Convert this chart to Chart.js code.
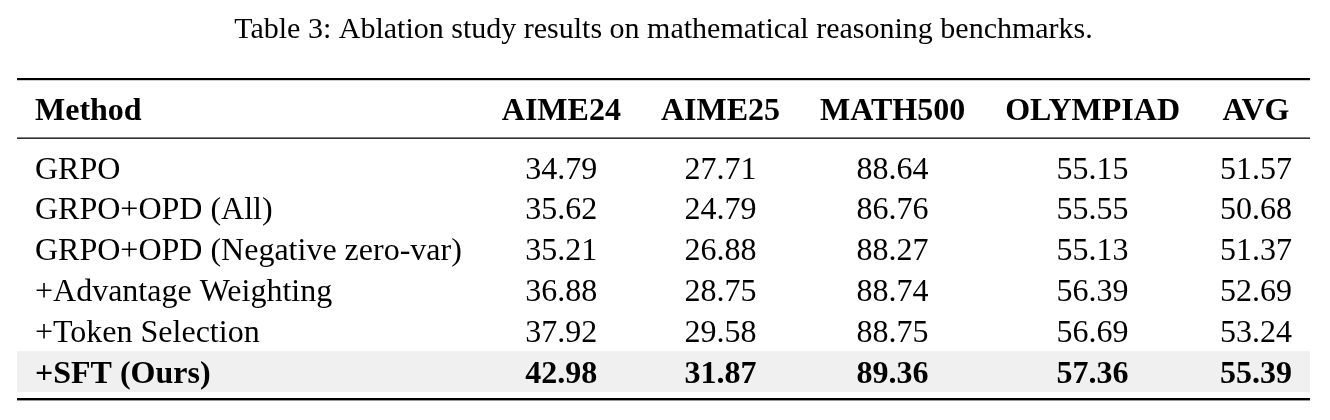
<!DOCTYPE html>
<html>
<head>
<meta charset="utf-8">
<title>Table 3: Ablation study</title>
<script src="https://cdn.jsdelivr.net/npm/chart.js@4.4.1/dist/chart.umd.min.js"></script>
<style>
  html, body { margin: 0; padding: 0; background: #fff; }
  #wrap { width: 1330px; height: 420px; }
</style>
</head>
<body>
<div id="wrap"><canvas id="ablationTable"></canvas></div>
<script>
// Table contents
const caption = 'Table 3: Ablation study results on mathematical reasoning benchmarks.';
const methodHeader = 'Method';
const benchmarks = ['AIME24', 'AIME25', 'MATH500', 'OLYMPIAD', 'AVG'];
const methods = ['GRPO', 'GRPO+OPD (All)', 'GRPO+OPD (Negative zero-var)', '+Advantage Weighting', '+Token Selection', '+SFT (Ours)'];
const aime24 = [34.79, 35.62, 35.21, 36.88, 37.92, 42.98];
const aime25 = [27.71, 24.79, 26.88, 28.75, 29.58, 31.87];
const math500 = [88.64, 86.76, 88.27, 88.74, 88.75, 89.36];
const olympiad = [55.15, 55.55, 55.13, 56.39, 56.69, 57.36];
const avg = [51.57, 50.68, 51.37, 52.69, 53.24, 55.39];
const highlightRow = '+SFT (Ours)';

const FAMILY = '"Liberation Serif", "Times New Roman", Times, serif';
const CELL_SIZE = 32;
const regularFont = CELL_SIZE + 'px ' + FAMILY;
const boldFont = 'bold ' + CELL_SIZE + 'px ' + FAMILY;

// Draws the booktabs-style table: rows come from the y category scale,
// column widths come from the measured text, spread across the chart area
const tablePlugin = {
    id: 'tablePlugin',
    afterDraw(chart) {
        const ctx = chart.ctx;
        const area = chart.chartArea;
        const yScale = chart.scales.y;
        const columns = [aime24, aime25, math500, olympiad, avg];
        const rowH = yScale.getPixelForValue(1) - yScale.getPixelForValue(0);
        const margin = 18;

        ctx.save();

        // highlighted row background
        const hi = methods.indexOf(highlightRow);
        if (hi >= 0) {
            const cy = yScale.getPixelForValue(hi);
            ctx.fillStyle = '#f0f0f0';
            ctx.fillRect(area.left, cy - rowH / 2, area.right - area.left, rowH);
        }

        // measure column widths
        ctx.font = boldFont;
        let methodW = ctx.measureText(methodHeader).width;
        methods.forEach(m => {
            ctx.font = m === highlightRow ? boldFont : regularFont;
            methodW = Math.max(methodW, ctx.measureText(m).width);
        });
        const colW = benchmarks.map((b, c) => {
            ctx.font = boldFont;
            let w = ctx.measureText(b).width;
            columns[c].forEach((v, r) => {
                ctx.font = methods[r] === highlightRow ? boldFont : regularFont;
                w = Math.max(w, ctx.measureText(v.toFixed(2)).width);
            });
            return w;
        });
        const inner = (area.right - area.left) - 2 * margin;
        const used = methodW + colW.reduce((a, b) => a + b, 0);
        const gap = (inner - used) / benchmarks.length;
        const methodX = area.left + margin;
        const centers = [];
        let x = methodX + methodW + gap;
        colW.forEach(w => {
            centers.push(x + w / 2);
            x += w + gap;
        });

        // rules
        ctx.fillStyle = '#000';
        ctx.fillRect(area.left, area.top - 69, area.right - area.left, 2.2);
        ctx.fillRect(area.left, area.top - 9.5, area.right - area.left, 1.3);
        ctx.fillRect(area.left, area.bottom + 6, area.right - area.left, 2.4);

        // header
        ctx.textBaseline = 'alphabetic';
        ctx.font = boldFont;
        const headerBase = area.top - 27;
        ctx.textAlign = 'left';
        ctx.fillText(methodHeader, methodX, headerBase);
        ctx.textAlign = 'center';
        benchmarks.forEach((b, c) => ctx.fillText(b, centers[c], headerBase));

        // body rows
        methods.forEach((m, r) => {
            const base = yScale.getPixelForValue(r) + CELL_SIZE * 0.35;
            ctx.font = m === highlightRow ? boldFont : regularFont;
            ctx.textAlign = 'left';
            ctx.fillText(m, methodX, base);
            ctx.textAlign = 'center';
            columns.forEach((col, c) => ctx.fillText(col[r].toFixed(2), centers[c], base));
        });

        ctx.restore();
    }
};

new Chart(document.getElementById('ablationTable'), {
    type: 'bar',
    data: {
        labels: methods,
        datasets: []
    },
    options: {
        indexAxis: 'y',
        responsive: true,
        maintainAspectRatio: false,
        animation: false,
        layout: {
            padding: { left: 17, right: 20, top: 0, bottom: 28 }
        },
        scales: {
            x: { type: 'linear', min: 0, max: 1, display: false },
            y: { type: 'category', labels: methods, display: false }
        },
        plugins: {
            legend: { display: false },
            tooltip: { enabled: false },
            title: {
                display: true,
                text: caption,
                color: '#000',
                font: { family: FAMILY, size: 30, weight: 'normal' },
                padding: { top: 12, bottom: 99 }
            }
        }
    },
    plugins: [tablePlugin]
});
</script>
</body>
</html>
